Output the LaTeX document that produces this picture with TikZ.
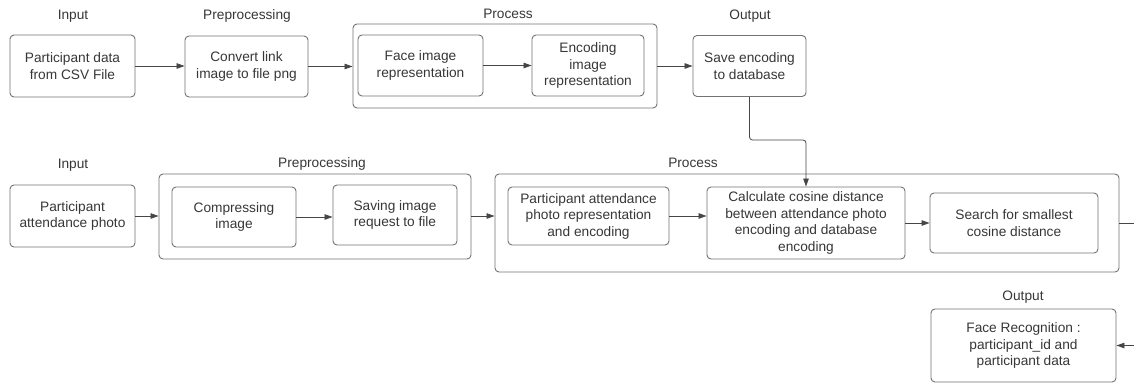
\documentclass[tikz,border=0pt]{standalone}
\usepackage{fontspec}
\setmainfont{Liberation Sans}
\usetikzlibrary{arrows.meta}
\definecolor{boxcol}{RGB}{115,115,115}
\definecolor{arrcol}{RGB}{70,70,70}
\definecolor{txtcol}{RGB}{55,55,55}
\tikzset{
  stepbox/.style={draw=boxcol, line width=0.9pt, rounded corners=4pt, align=center,
    inner sep=0pt, text=txtcol, font=\fontsize{13.7}{16.5}\selectfont},
  groupbox/.style={draw=boxcol, line width=0.9pt, rounded corners=4pt, inner sep=0pt},
  lbl/.style={text=txtcol, font=\fontsize{13.7}{16.5}\selectfont, inner sep=0pt},
  flow/.style={draw=arrcol, line width=0.8pt, -{Triangle[length=8pt,width=5.5pt]}},
}
\begin{document}
\begin{tikzpicture}[x=1pt,y=-1pt]
\useasboundingbox (0,0) rectangle (1134,383);
\clip (0,0) rectangle (1134,383);
\fill[white] (0,0) rectangle (1134,383);
% ---------- top row ----------
\node[lbl] (lin1) at (73,16) {Input};
\node[lbl] (lpre1) at (247,16) {Preprocessing};
\node[lbl] (lproc1) at (508,14) {Process};
\node[lbl] (lout1) at (750,16) {Output};

\node[groupbox, minimum width=304pt, minimum height=84pt] (proc1) at (505,66) {};
\node[stepbox, minimum width=125pt, minimum height=62pt] (in1) at (72.5,66) {Participant data\\from CSV File};
\node[stepbox, minimum width=123pt, minimum height=61pt] (pre1) at (246.5,66.5) {Convert link\\image to file png};
\node[stepbox, minimum width=125pt, minimum height=61pt] (face) at (420.5,65.5) {Face image\\representation};
\node[stepbox, minimum width=112pt, minimum height=61pt] (enc) at (588,65.5) {Encoding\\image\\representation};
\node[stepbox, minimum width=113pt, minimum height=61pt] (save) at (749.5,66) {Save encoding\\to database};

\draw[flow] (in1.east) -- (in1.east -| pre1.west);
\draw[flow] (pre1.east) -- (pre1.east -| proc1.west);
\draw[flow] (face.east) -- (face.east -| enc.west);
\draw[flow] (proc1.east) -- (proc1.east -| save.west);

% ---------- middle row ----------
\node[lbl] (lin2) at (73,165) {Input};
\node[lbl] (lpre2) at (322,164) {Preprocessing};
\node[lbl] (lproc2) at (693,163) {Process};

\node[groupbox, minimum width=312pt, minimum height=85pt] (pre2) at (315,216.5) {};
\node[groupbox, minimum width=624pt, minimum height=98pt] (proc2) at (807,223) {};

\node[stepbox, minimum width=125pt, minimum height=62pt] (in2) at (72.5,216) {Participant\\attendance photo};
\node[stepbox, minimum width=124pt, minimum height=60pt] (comp) at (234,217) {Compressing\\image};
\node[stepbox, minimum width=124pt, minimum height=60pt] (saving) at (395,215) {Saving image\\request to file};
\node[stepbox, minimum width=161pt, minimum height=58pt] (par) at (588.5,216) {Participant attendance\\photo representation\\and encoding};
\node[stepbox, minimum width=198pt, minimum height=72pt] (calc) at (806,223) {Calculate cosine distance\\between attendance photo\\encoding and database\\encoding};
\node[stepbox, minimum width=168pt, minimum height=60pt] (search) at (1014,223) {Search for smallest\\cosine distance};

\draw[flow] (in2.east) -- (in2.east -| pre2.west);
\draw[flow] (comp.east) -- (comp.east -| saving.west);
\draw[flow] (in2.east -| pre2.east) -- (in2.east -| proc2.west);
\draw[flow] (par.east) -- (par.east -| calc.west);
\draw[flow] (calc.east) -- (calc.east -| search.west);

\coordinate (bend) at (806,140);
\draw[flow, rounded corners=3pt] (save.south) |- (bend) -- (calc.north);

% ---------- bottom output ----------
\node[lbl] (lout2) at (1023,297) {Output};
\node[stepbox, minimum width=185pt, minimum height=73pt] (rec) at (1023.5,345.5) {Face Recognition :\\participant\_id and\\participant data};

\coordinate (rt) at (1150,223);
\draw[flow] (proc2.east) -- (rt) |- (rec.east);
\end{tikzpicture}
\end{document}
